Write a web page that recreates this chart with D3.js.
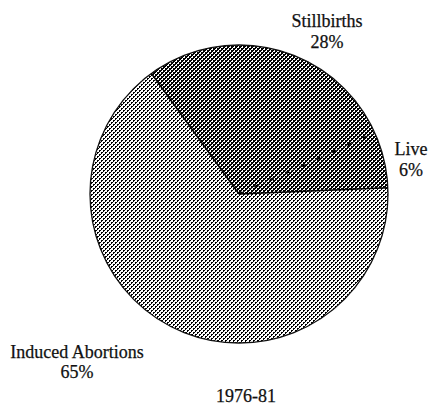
<!DOCTYPE html>
<html>
<head>
<meta charset="utf-8">
<script src="https://cdn.jsdelivr.net/npm/d3@7"></script>
<style>
  body { margin: 0; background: #fff; }
  text { font-family: "Liberation Serif", "DejaVu Serif", serif; fill: #111; stroke: #111; stroke-width: 0.25px; }
</style>
</head>
<body>
<div id="chart"></div>
<script>
const categories = ["Stillbirths", "Live", "Induced Abortions"];
const values = [28, 6, 65];
const labels = ["28%", "6%", "65%"];
const caption = "1976-81";

const width = 433, height = 406;
const cx = 239, cy = 194, radius = 149;

const svg = d3.select("#chart")
    .append("svg")
    .attr("width", width)
    .attr("height", height);

// halftone-like fills
const defs = svg.append("defs");
function makePattern(id, bg, cells, color) {
    const p = defs.append("pattern")
        .attr("id", id)
        .attr("patternUnits", "userSpaceOnUse")
        .attr("width", 4).attr("height", 4);
    p.append("rect").attr("width", 4).attr("height", 4).attr("fill", bg);
    cells.forEach(c => {
        p.append("rect")
            .attr("x", c[0]).attr("y", c[1])
            .attr("width", c[2]).attr("height", c[3])
            .attr("fill", color);
    });
}
// dark: checker with extra dots
makePattern("dark", "#fff", [[0, 0, 2, 2], [2, 2, 2, 2], [2, 0, 1, 1], [0, 2, 1, 1]], "#000");
// light: smaller dots
makePattern("light", "#fff", [[0, 0, 2, 1], [2, 2, 2, 1], [0, 1, 1, 1], [2, 3, 1, 1]], "#000");

const fills = ["url(#dark)", "url(#dark)", "url(#light)"];

const pie = d3.pie()
    .sort(null)
    .startAngle(-36 * Math.PI / 180)
    .endAngle(324 * Math.PI / 180);

const arcs = pie(values);
const arc = d3.arc().innerRadius(0).outerRadius(radius);

const g = svg.append("g").attr("transform", `translate(${cx},${cy})`);

g.selectAll(".slice")
    .data(arcs)
    .enter()
    .append("path")
    .attr("class", "slice")
    .attr("d", arc)
    .attr("fill", (d, i) => fills[i]);

// outline
g.append("circle")
    .attr("r", radius)
    .attr("fill", "none")
    .attr("stroke", "#111")
    .attr("stroke-width", 1.3);

// slice borders; Stillbirths/Live border is dashed
const borders = arcs.map((d, i) => ({ angle: d.startAngle, dashed: i === 1 }));
g.selectAll(".border")
    .data(borders)
    .enter()
    .append("line")
    .attr("x1", 0).attr("y1", 0)
    .attr("x2", d => radius * Math.sin(d.angle))
    .attr("y2", d => -radius * Math.cos(d.angle))
    .attr("stroke", "#000")
    .attr("stroke-width", d => d.dashed ? 2.4 : 1.5)
    .attr("stroke-dasharray", d => d.dashed ? "4,13" : null);

// labels
const labelPos = [[327, 27, 48], [411, 155, 176], [77, 358, 378]];
categories.forEach((c, i) => {
    svg.append("text")
        .attr("x", labelPos[i][0])
        .attr("y", labelPos[i][1])
        .attr("text-anchor", "middle")
        .style("font-size", "18px")
        .text(c);
    svg.append("text")
        .attr("x", labelPos[i][0])
        .attr("y", labelPos[i][2])
        .attr("text-anchor", "middle")
        .style("font-size", "18px")
        .text(labels[i]);
});

svg.append("text")
    .attr("x", 246)
    .attr("y", 402)
    .attr("text-anchor", "middle")
    .style("font-size", "18px")
    .text(caption);
</script>
</body>
</html>
